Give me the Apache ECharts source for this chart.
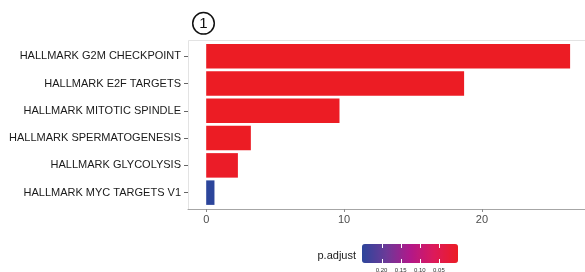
<!DOCTYPE html>
<html><head><meta charset="utf-8">
<script src="https://cdn.jsdelivr.net/npm/echarts@6/dist/echarts.min.js"></script>
<style>html,body{margin:0;padding:0;background:#fff;overflow:hidden}#c{width:585px;height:272px}</style>
</head><body><div id="c"></div>
<script>
const categories = ['HALLMARK G2M CHECKPOINT', 'HALLMARK E2F TARGETS', 'HALLMARK MITOTIC SPINDLE', 'HALLMARK SPERMATOGENESIS', 'HALLMARK GLYCOLYSIS', 'HALLMARK MYC TARGETS V1'];
const values = [26.4, 18.71, 9.67, 3.24, 2.30, 0.60];
const pAdjust = [4e-27, 2e-19, 2.1e-10, 5.8e-4, 5.0e-3, 0.251];
const xTicks = [0, 10, 20];
const legendTicks = [0.20, 0.15, 0.10, 0.05];
const legendTickLabels = ['0.20', '0.15', '0.10', '0.05'];
const pMin = 0, pMax = 0.251;

const FONT = '"Liberation Sans", Arial, Helvetica, sans-serif';
const chart = echarts.init(document.getElementById('c'), null, {renderer: 'canvas'});

const barL = 362, barT = 244, barLen = 96, barThick = 19;
const legendX = v => barL + (pMax - v) / (pMax - pMin) * barLen;

const graphics = [
  {type: 'polyline', shape: {points: [[188.5, 209], [188.5, 40.5], [585, 40.5]]}, style: {stroke: '#e3e3e3', lineWidth: 1, fill: null}, z: 1},
  {type: 'circle', shape: {cx: 203.5, cy: 23.3, r: 10.8}, style: {fill: 'none', stroke: '#111', lineWidth: 1.5}},
  {type: 'text', x: 203.5, y: 23.8, style: {text: '1', fontSize: 15, fontFamily: FONT, fill: '#111', align: 'center', verticalAlign: 'middle'}},
  {type: 'text', x: 356, y: 256, style: {text: 'p.adjust', fontSize: 11, fontFamily: FONT, fill: '#1a1a1a', align: 'right', verticalAlign: 'middle'}}
];
legendTicks.forEach((v, i) => {
  const x = Math.round(legendX(v));
  graphics.push({type: 'rect', shape: {x: x, y: barT, width: 1, height: 4}, style: {fill: '#ffffff'}, z: 100});
  graphics.push({type: 'rect', shape: {x: x, y: barT + barThick - 4, width: 1, height: 4}, style: {fill: '#ffffff'}, z: 100});
  graphics.push({type: 'text', x: legendX(v), y: 270, style: {text: legendTickLabels[i], fontSize: 6, fontFamily: FONT, fill: '#333', align: 'center', verticalAlign: 'middle'}});
});

chart.setOption({
  animation: false,
  backgroundColor: '#fff',
  grid: {left: 188, right: -3.3, top: 42.72, bottom: 65.73, containLabel: false, outerBoundsMode: 'none'},
  xAxis: {
    type: 'value', min: -1.32, max: 27.72, offset: 2.73,
    axisLine: {show: true, lineStyle: {color: '#a6a6a6', width: 1}},
    axisTick: {show: true, length: 3, customValues: xTicks, lineStyle: {color: '#8c8c8c'}},
    axisLabel: {customValues: xTicks, margin: 5, fontSize: 11, fontFamily: FONT, color: '#4d4d4d'},
    splitLine: {show: false}
  },
  yAxis: {
    type: 'category', data: categories, inverse: true,
    axisLine: {show: false, onZero: false},
    axisTick: {show: true, alignWithLabel: true, length: 4, lineStyle: {color: '#666'}},
    axisLabel: {margin: 7, fontSize: 11, fontFamily: FONT, color: '#1a1a1a'},
    splitLine: {show: false}
  },
  visualMap: {
    type: 'continuous', min: pMin, max: pMax, dimension: 2, seriesIndex: 0,
    orient: 'horizontal', inverse: true, calculable: false, hoverLink: false,
    left: barL, top: barT, padding: 0, itemWidth: barThick, itemHeight: barLen,
    inRange: {color: ['#ec1c24', '#dc1a5a', '#b1188a', '#6b3a98', '#2c459b']},
    text: null
  },
  series: [{
    type: 'bar',
    data: categories.map((c, i) => [values[i], c, pAdjust[i]]),
    encode: {x: 0, y: 1},
    barWidth: 24.5,
    itemStyle: {borderWidth: 0}
  }],
  graphic: graphics
});
</script></body></html>
